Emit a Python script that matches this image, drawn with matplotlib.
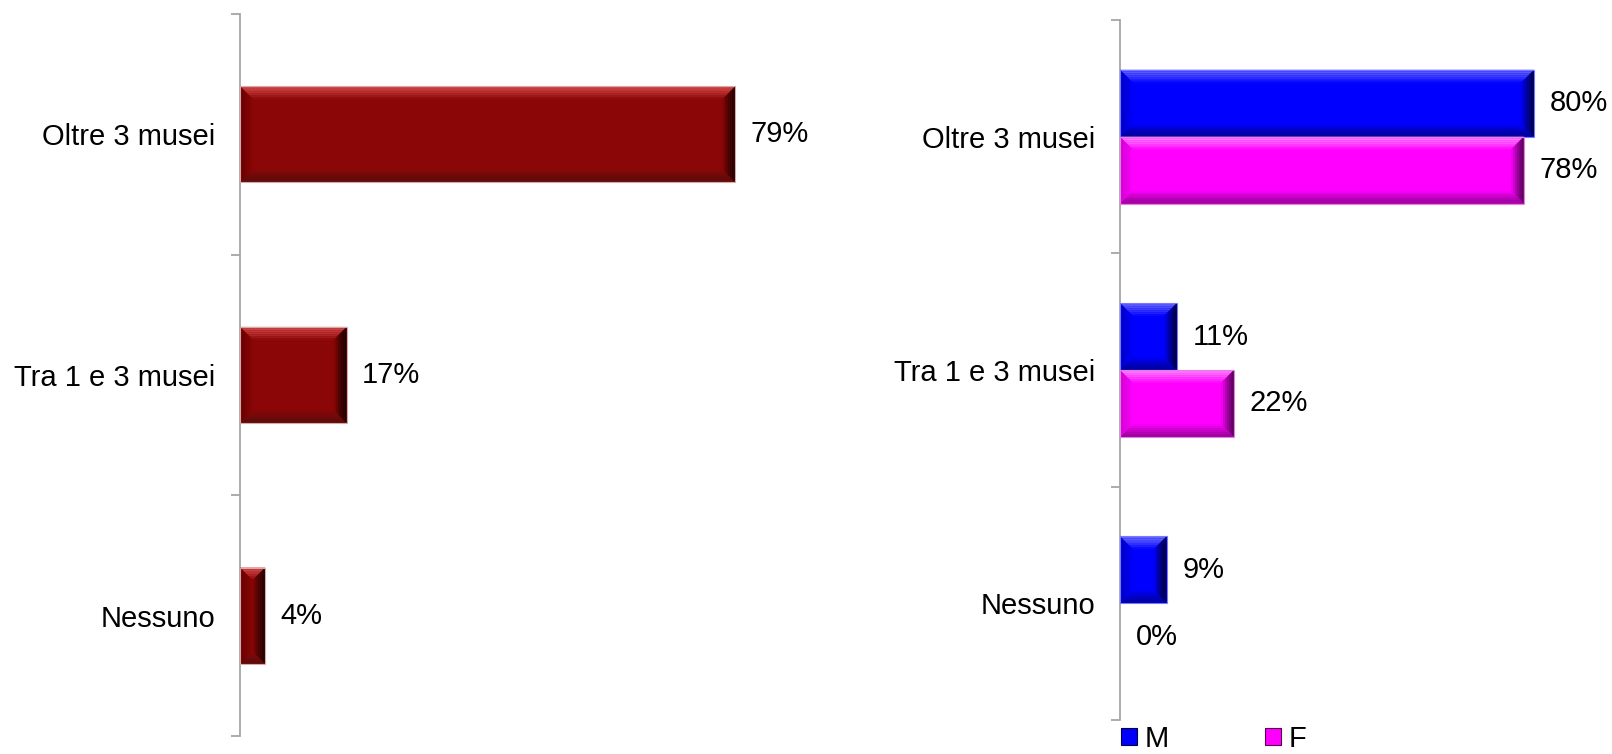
import matplotlib
matplotlib.use("Agg")
import matplotlib.pyplot as plt
from matplotlib.patches import Polygon, Patch
import numpy as np

plt.rcParams['font.family'] = ['Liberation Sans', 'DejaVu Sans']

categories = ['Oltre 3 musei', 'Tra 1 e 3 musei', 'Nessuno']
totale = [79, 17, 4]
maschi = [80, 11, 9]
femmine = [78, 22, 0]
series_names = ['M', 'F']

W, H, DPI = 1612, 754, 100
FS = 21
fig = plt.figure(figsize=(W / DPI, H / DPI), dpi=DPI)

# axes placed in pixels (left, top, width, height)
ax1 = fig.add_axes([240 / W, 1 - 736 / H, 627 / W, 722 / H])
ax2 = fig.add_axes([1120 / W, 1 - 720 / H, 440 / W, 700 / H])
ax1.set_xlim(0, 100)
ax2.set_xlim(0, 85)

red = dict(main=(139, 6, 6), top=(210, 70, 70), bottom=(90, 12, 12),
           left=(105, 0, 0), right=(25, 0, 0), edge=(215, 170, 170))
blue = dict(main=(0, 0, 255), top=(100, 100, 255), bottom=(0, 0, 150),
            left=(0, 0, 195), right=(0, 0, 60), edge=(120, 120, 255))
magenta = dict(main=(255, 0, 255), top=(255, 130, 255), bottom=(150, 0, 150),
               left=(210, 0, 210), right=(85, 0, 85), edge=(225, 130, 225))


def c(rgb):
    return tuple(v / 255 for v in rgb)


def mix(a, b, f):
    return tuple((a[i] + (b[i] - a[i]) * f) / 255 for i in range(3))


def bevel(ax, patch, col, size=13, steps=7):
    x0, y0 = patch.get_x(), patch.get_y()
    w, h = patch.get_width(), patch.get_height()
    if w <= 0:
        return
    bb = ax.get_window_extent()
    xl, yl = ax.get_xlim(), ax.get_ylim()
    pxx = bb.width / abs(xl[1] - xl[0])
    pxy = bb.height / abs(yl[1] - yl[0])
    b = min(size, w * pxx / 2, h * pxy / 2)
    x1, y1 = x0 + w, y0 + h  # y0 is visual top (inverted axis)
    for k in range(steps):
        a = b * k / steps
        d = b * (k + 1) / steps
        ax_, dx_ = a / pxx, d / pxx
        ay_, dy_ = a / pxy, d / pxy
        f = ((k + 0.5) / steps) ** 1.4
        sides = {
            'top': [(x0 + ax_, y0 + ay_), (x1 - ax_, y0 + ay_), (x1 - dx_, y0 + dy_), (x0 + dx_, y0 + dy_)],
            'bottom': [(x0 + ax_, y1 - ay_), (x1 - ax_, y1 - ay_), (x1 - dx_, y1 - dy_), (x0 + dx_, y1 - dy_)],
            'left': [(x0 + ax_, y0 + ay_), (x0 + dx_, y0 + dy_), (x0 + dx_, y1 - dy_), (x0 + ax_, y1 - ay_)],
            'right': [(x1 - ax_, y0 + ay_), (x1 - dx_, y0 + dy_), (x1 - dx_, y1 - dy_), (x1 - ax_, y1 - ay_)],
        }
        for s, pts in sides.items():
            ax.add_patch(Polygon(pts, closed=True, facecolor=mix(col[s], col['main'], f),
                                 edgecolor='none', lw=0, zorder=3))
    ax.add_patch(Polygon([(x0, y0), (x1, y0), (x1, y1), (x0, y1)], closed=True,
                         facecolor='none', edgecolor=c(col['edge']), lw=0.8, zorder=4))


def style(ax):
    n = len(categories)
    ax.set_ylim(n - 0.5, -0.5)
    for s in ['top', 'right', 'bottom']:
        ax.spines[s].set_visible(False)
    ax.spines['left'].set_color('#a6a6a6')
    ax.spines['left'].set_linewidth(1.3)
    ax.set_xticks([])
    ax.set_yticks(np.arange(n + 1) - 0.5)
    ax.set_yticklabels([])
    ax.set_yticks(np.arange(n), minor=True)
    ax.set_yticklabels(categories, minor=True, fontsize=FS)
    ax.tick_params(axis='y', which='major', length=6.5, width=1.3, color='#a6a6a6', direction='out')
    ax.tick_params(axis='y', which='minor', length=0, pad=18)


style(ax1)
style(ax2)

y = np.arange(len(categories))

# left chart: total
bars = ax1.barh(y, totale, height=0.40, color=c(red['main']), zorder=2)
for p, v in zip(bars, totale):
    bevel(ax1, p, red)
    ax1.annotate(f"{v}%", (p.get_width(), p.get_y() + p.get_height() / 2),
                 xytext=(11, 0), textcoords='offset points', va='center', ha='left', fontsize=FS)

# right chart: by gender
bh = 0.287
bm = ax2.barh(y - bh / 2, maschi, height=bh, color=c(blue['main']), zorder=2)
bf = ax2.barh(y + bh / 2, femmine, height=bh, color=c(magenta['main']), zorder=2)
for group, col in [(bm, blue), (bf, magenta)]:
    for p in group:
        bevel(ax2, p, col)
        ax2.annotate(f"{p.get_width():.0f}%", (p.get_width(), p.get_y() + p.get_height() / 2),
                     xytext=(11.5, 0), textcoords='offset points', va='center', ha='left',
                     fontsize=FS, annotation_clip=False)

handles = [Patch(facecolor=c(blue['main']), edgecolor=c(blue['right']), lw=0.8),
           Patch(facecolor=c(magenta['main']), edgecolor=c(magenta['right']), lw=0.8)]
fig.legend(handles, series_names, loc='center left', bbox_to_anchor=(1121 / W, 1 - 739 / H),
           ncol=2, frameon=False, fontsize=FS, borderpad=0, borderaxespad=0,
           handlelength=0.55, handleheight=0.55, handletextpad=0.25, columnspacing=3.3)

fig.savefig("out.png", dpi=DPI)
